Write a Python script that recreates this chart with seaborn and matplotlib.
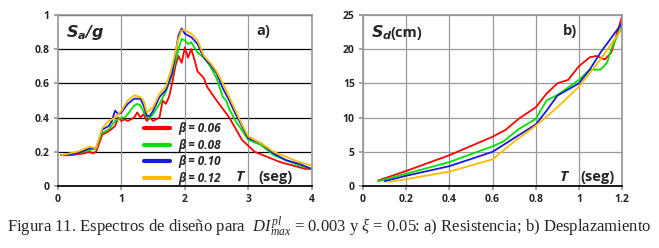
import pandas as pd
import matplotlib
matplotlib.use("Agg")
import matplotlib.pyplot as plt
import seaborn as sns

# Espectros de diseño: a) resistencia Sa/g, b) desplazamiento Sd (cm)
betas = ["β = 0.06", "β = 0.08", "β = 0.10", "β = 0.12"]
colores = ["#ff0000", "#00e000", "#1a1adc", "#ffbb00"]

T_a_006 = [0.05, 0.2, 0.4, 0.5, 0.55, 0.6, 0.7, 0.8, 0.9, 0.95, 1.0, 1.05, 1.1, 1.2, 1.25, 1.3, 1.35, 1.4, 1.45, 1.5,
           1.6, 1.65, 1.7, 1.75, 1.8, 1.85, 1.9, 1.95, 2.0, 2.05, 2.1, 2.15, 2.2, 2.3, 2.35, 2.5, 2.7, 2.9, 3.1, 3.3,
           3.5, 3.7, 3.9, 4.0]
Sa_006 = [0.18, 0.18, 0.19, 0.20, 0.19, 0.20, 0.30, 0.32, 0.35, 0.40, 0.38, 0.39, 0.38, 0.40, 0.43, 0.40, 0.42, 0.38,
          0.40, 0.38, 0.40, 0.50, 0.48, 0.52, 0.60, 0.70, 0.76, 0.72, 0.81, 0.75, 0.80, 0.74, 0.67, 0.63, 0.58, 0.50,
          0.40, 0.27, 0.20, 0.17, 0.14, 0.12, 0.10, 0.10]

T_a_008 = [0.05, 0.3, 0.5, 0.6, 0.7, 0.8, 0.9, 1.0, 1.05, 1.1, 1.2, 1.25, 1.3, 1.4, 1.45, 1.5, 1.6, 1.7, 1.8, 1.9,
           1.95, 2.0, 2.05, 2.1, 2.2, 2.3, 2.4, 2.5, 2.6, 2.65, 2.7, 2.8, 3.0, 3.2, 3.4, 3.6, 3.8, 4.0]
Sa_008 = [0.18, 0.19, 0.21, 0.22, 0.31, 0.33, 0.38, 0.40, 0.40, 0.42, 0.47, 0.48, 0.47, 0.40, 0.40, 0.42, 0.48, 0.55,
          0.65, 0.80, 0.86, 0.85, 0.83, 0.84, 0.78, 0.75, 0.70, 0.63, 0.52, 0.50, 0.45, 0.38, 0.27, 0.24, 0.18, 0.15,
          0.12, 0.10]

T_a_010 = [0.05, 0.3, 0.5, 0.6, 0.7, 0.8, 0.85, 0.9, 0.95, 1.0, 1.1, 1.2, 1.3, 1.35, 1.4, 1.45, 1.5, 1.6, 1.7, 1.8,
           1.9, 1.95, 2.0, 2.1, 2.2, 2.3, 2.4, 2.5, 2.6, 2.7, 2.8, 2.9, 3.0, 3.2, 3.4, 3.6, 3.8, 4.0]
Sa_010 = [0.18, 0.19, 0.22, 0.22, 0.33, 0.35, 0.38, 0.44, 0.42, 0.43, 0.48, 0.51, 0.51, 0.47, 0.41, 0.41, 0.44, 0.52,
          0.56, 0.66, 0.88, 0.92, 0.89, 0.87, 0.83, 0.75, 0.71, 0.66, 0.57, 0.50, 0.42, 0.35, 0.28, 0.25, 0.19, 0.15,
          0.13, 0.10]

T_a_012 = [0.05, 0.3, 0.5, 0.6, 0.7, 0.8, 0.9, 1.0, 1.1, 1.2, 1.3, 1.35, 1.4, 1.5, 1.6, 1.7, 1.8, 1.9, 1.95, 2.0,
           2.1, 2.2, 2.3, 2.4, 2.5, 2.6, 2.7, 2.8, 2.9, 3.0, 3.2, 3.4, 3.6, 3.8, 4.0]
Sa_012 = [0.18, 0.20, 0.23, 0.22, 0.34, 0.38, 0.40, 0.44, 0.50, 0.53, 0.52, 0.50, 0.43, 0.46, 0.54, 0.58, 0.70, 0.86,
          0.91, 0.91, 0.89, 0.85, 0.76, 0.72, 0.67, 0.60, 0.52, 0.44, 0.36, 0.29, 0.25, 0.20, 0.17, 0.14, 0.12]

T_b_006 = [0.07, 0.2, 0.4, 0.6, 0.66, 0.72, 0.8, 0.85, 0.9, 0.95, 1.0, 1.05, 1.08, 1.12, 1.15, 1.2]
Sd_006 = [0.8, 2.2, 4.5, 7.2, 8.2, 9.8, 11.5, 13.5, 15.0, 15.5, 17.5, 18.8, 19.0, 18.5, 19.5, 24.8]

T_b_008 = [0.07, 0.2, 0.4, 0.6, 0.65, 0.72, 0.8, 0.85, 0.9, 1.0, 1.05, 1.1, 1.13, 1.15, 1.2]
Sd_008 = [0.7, 1.8, 3.5, 5.8, 6.5, 8.3, 9.8, 12.5, 13.3, 15.5, 17.0, 17.0, 18.0, 20.0, 23.5]

T_b_010 = [0.1, 0.2, 0.4, 0.6, 0.7, 0.8, 0.85, 0.9, 1.0, 1.05, 1.1, 1.2]
Sd_010 = [0.7, 1.5, 2.9, 5.0, 7.0, 9.0, 11.0, 13.2, 15.0, 17.0, 19.5, 23.8]

T_b_012 = [0.12, 0.2, 0.4, 0.6, 0.7, 0.8, 0.9, 1.0, 1.1, 1.2]
Sd_012 = [0.6, 1.0, 2.1, 3.9, 6.5, 8.8, 11.5, 14.5, 18.5, 23.0]


def long_df(ts, ys, col):
    partes = []
    for b, t, y in zip(betas, ts, ys):
        partes.append(pd.DataFrame({"T": t, col: y, "beta": b}))
    return pd.concat(partes, ignore_index=True)


df_a = long_df([T_a_006, T_a_008, T_a_010, T_a_012], [Sa_006, Sa_008, Sa_010, Sa_012], "Sa")
df_b = long_df([T_b_006, T_b_008, T_b_010, T_b_012], [Sd_006, Sd_008, Sd_010, Sd_012], "Sd")

sns.set_theme(style="white")
plt.rcParams["font.family"] = ["Open Sans", "DejaVu Sans"]
plt.rcParams["mathtext.fontset"] = "custom"
plt.rcParams["mathtext.rm"] = "Liberation Serif"
plt.rcParams["mathtext.it"] = "Liberation Serif:italic"

fig = plt.figure(figsize=(6.59, 2.48), dpi=100)
ax1 = fig.add_axes([0.088, 0.25, 0.385, 0.69])
ax2 = fig.add_axes([0.551, 0.25, 0.393, 0.69])
pal = dict(zip(betas, colores))

sns.lineplot(data=df_a, x="T", y="Sa", hue="beta", palette=pal, ax=ax1, lw=1.3, sort=False, estimator=None)
sns.lineplot(data=df_b, x="T", y="Sd", hue="beta", palette=pal, ax=ax2, lw=1.3, sort=False, estimator=None,
             legend=False)

# panel a
ax1.set_xlim(0, 4)
ax1.set_ylim(0, 1)
ax1.set_xticks([0, 1, 2, 3, 4])
ax1.set_yticks([0, 0.2, 0.4, 0.6, 0.8, 1])
ax1.set_yticklabels(["0", "0.2", "0.4", "0.6", "0.8", "1"])
for y in [0.2, 0.4, 0.6, 0.8, 1.0]:
    ax1.axhline(y, color="black", lw=0.9, zorder=0)
for x in [1, 2, 3]:
    ax1.axvline(x, color="#999999", lw=0.9, zorder=0)
for s in ["top", "right", "left"]:
    ax1.spines[s].set_color("#999999")
ax1.spines["bottom"].set_color("black")
ax1.set_xlabel("")
ax1.set_ylabel("")
ax1.text(0.03, 0.87, r"$\mathbfit{S_a/g}$", transform=ax1.transAxes, fontsize=11.5,
         math_fontfamily="dejavusans")
ax1.text(0.78, 0.88, "a)", transform=ax1.transAxes, fontsize=10.5, fontweight="bold")
ax1.text(0.70, 0.03, "T", transform=ax1.transAxes, fontsize=11, fontweight="bold", fontstyle="italic")
ax1.text(0.79, 0.03, "(seg)", transform=ax1.transAxes, fontsize=10.5, fontweight="bold")
leg = ax1.legend(loc="upper left", bbox_to_anchor=(0.32, 0.40), frameon=False, fontsize=8.5,
                 handlelength=2.2, handletextpad=0.7, labelspacing=0.3, borderaxespad=0)
for t in leg.get_texts():
    t.set_fontweight("bold")
    t.set_fontstyle("italic")
for h in leg.get_lines():
    h.set_linewidth(3)

# panel b
ax2.set_xlim(0, 1.2)
ax2.set_ylim(0, 25)
ax2.set_xticks([0, 0.2, 0.4, 0.6, 0.8, 1.0, 1.2])
ax2.set_xticklabels(["0", "0.2", "0.4", "0.6", "0.8", "1", "1.2"])
ax2.set_yticks([0, 5, 10, 15, 20, 25])
ax2.grid(True, color="#999999", lw=0.9)
ax2.set_axisbelow(True)
for s in ax2.spines.values():
    s.set_color("#999999")
ax2.spines["bottom"].set_color("black")
ax2.set_xlabel("")
ax2.set_ylabel("")
ax2.text(0.03, 0.87, r"$\mathbfit{S_d}$", transform=ax2.transAxes, fontsize=11.5,
         math_fontfamily="dejavusans")
ax2.text(0.105, 0.87, "(cm)", transform=ax2.transAxes, fontsize=10.5, fontweight="bold")
ax2.text(0.77, 0.88, "b)", transform=ax2.transAxes, fontsize=10.5, fontweight="bold")
ax2.text(0.76, 0.03, "T", transform=ax2.transAxes, fontsize=11, fontweight="bold", fontstyle="italic")
ax2.text(0.84, 0.03, "(seg)", transform=ax2.transAxes, fontsize=10.5, fontweight="bold")

for ax in (ax1, ax2):
    ax.tick_params(axis="both", labelsize=7.5, length=3, color="#999999", pad=3, bottom=True, left=True)
    for lab in ax.get_xticklabels() + ax.get_yticklabels():
        lab.set_fontweight("bold")

fig.text(0.5, 0.085, "Figura 11. Espectros de diseño para  $DI^{pl}_{max}$ = 0.003 y $\\xi$ = 0.05: a) Resistencia; "
         "b) Desplazamiento", ha="center", va="center", fontsize=12, family="Liberation Serif")

fig.savefig("out.png", dpi=100)
